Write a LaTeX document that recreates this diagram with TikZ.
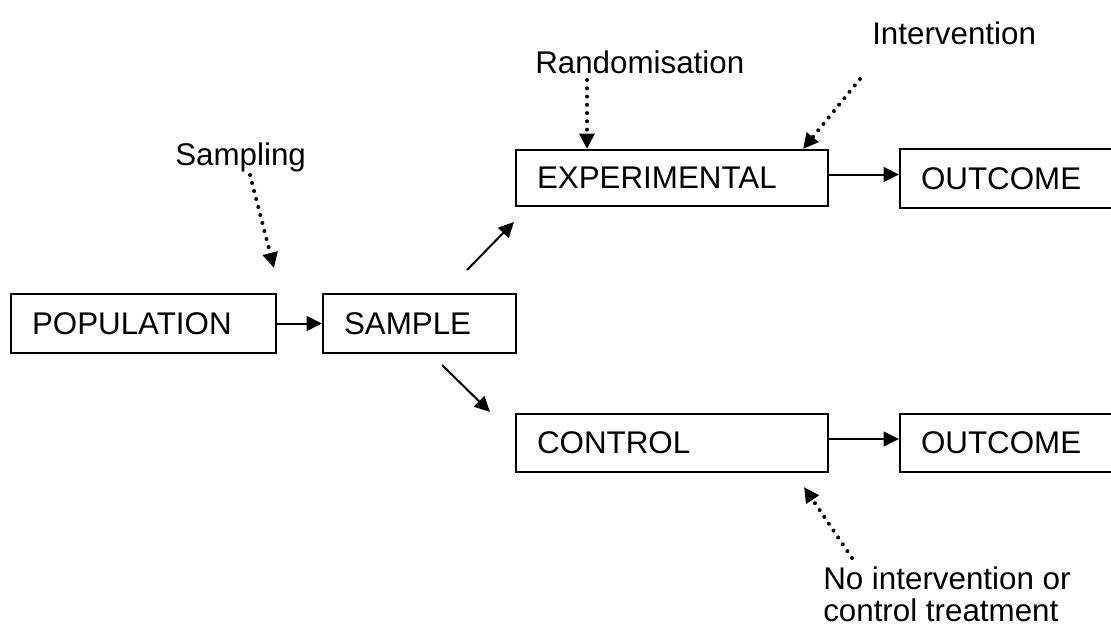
\documentclass[tikz,border=0pt]{standalone}
\usepackage{fontspec}
\setmainfont{Liberation Sans}
\usetikzlibrary{arrows.meta}
\begin{document}
\begin{tikzpicture}[x=0.75pt,y=-0.75pt,
  every node/.style={font=\fontsize{23.5pt}{24pt}\selectfont},
  box/.style={draw, line width=1.5pt, rectangle, anchor=north west, inner xsep=15.75pt, inner ysep=0pt, align=left},
  lbl/.style={inner sep=0pt, anchor=base west},
  conn/.style={line width=1.5pt, -{Triangle[length=11.5pt,width=11pt]}},
  dotconn/.style={line width=3pt, line cap=round, dash pattern=on 0pt off 6.2pt, -{Triangle[length=11.5pt,width=11pt]}}
]
\useasboundingbox[fill=white] (0,0) rectangle (1111,628);

% boxes
\node[box, minimum width=198.75pt, minimum height=44.25pt, text width=167.25pt] (pop) at (10,293) {POPULATION};
\node[box, minimum width=144.75pt, minimum height=44.25pt, text width=113.25pt] (sample) at (322,293) {SAMPLE};
\node[box, minimum width=234pt, minimum height=42pt, text width=202.5pt] (exp) at (515,149) {EXPERIMENTAL};
\node[box, minimum width=162pt, minimum height=44.25pt, text width=130.5pt] (out1) at (899,148) {OUTCOME};
\node[box, minimum width=234pt, minimum height=43.5pt, text width=202.5pt] (ctrl) at (515,413) {CONTROL};
\node[box, minimum width=162pt, minimum height=43.5pt, text width=130.5pt] (out2) at (899,413) {OUTCOME};

% labels
\node[lbl] (samp) at (175,165) {Sampling};
\node[lbl] (rand) at (535,73) {Randomisation};
\node[lbl] (interv) at (872,45) {Intervention};
\node[lbl, align=left] (noint) at (823,621) {No intervention or\\control treatment};

% free ends
\coordinate (sampA) at (250,175);
\coordinate (sampB) at (274,268);
\coordinate (randA) at (587,80);
\coordinate (randB) at (587,149);
\coordinate (intA) at (860,79);
\coordinate (intB) at (803,149);
\coordinate (noA) at (852,558);
\coordinate (noB) at (804,487);
\coordinate (upA) at (467,270);
\coordinate (upB) at (514,222);
\coordinate (dnA) at (442,365);
\coordinate (dnB) at (490,412);

% solid connectors
\draw[conn] (pop.east) -- (sample.west);
\draw[conn] ([yshift=2.6pt]exp.east) -- ([yshift=2.6pt]exp.east -| out1.west);
\draw[conn] ([yshift=3pt]ctrl.east) -- ([yshift=3pt]ctrl.east -| out2.west);
\draw[conn] (upA) -- (upB);
\draw[conn] (dnA) -- (dnB);

% dotted connectors
\draw[dotconn] (sampA) -- (sampB);
\draw[dotconn] (randA) -- (randB);
\draw[dotconn] (intA) -- (intB);
\draw[dotconn] (noA) -- (noB);
\end{tikzpicture}
\end{document}
